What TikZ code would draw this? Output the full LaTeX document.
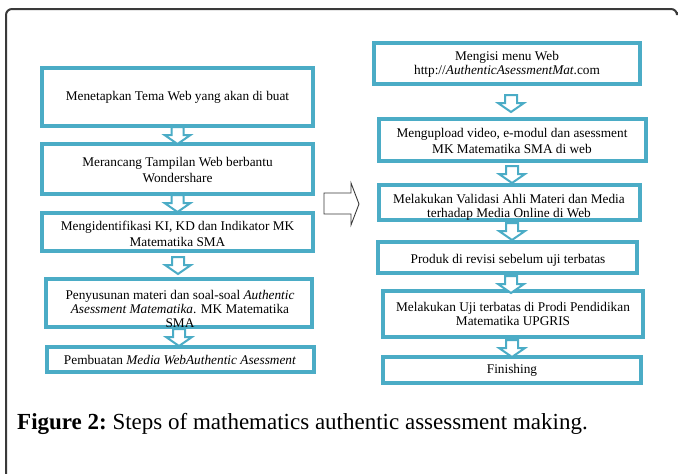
\documentclass[tikz,border=0pt]{standalone}
\usepackage{fontspec}
\setmainfont{Liberation Serif}
\definecolor{teal1}{RGB}{75,172,198}
\definecolor{frame1}{RGB}{58,58,58}
\tikzset{
  stepbox/.style={draw=teal1, line width=4pt, fill=none, inner sep=0pt, rectangle},
  txt/.style={align=center, inner sep=0pt, font=\fontsize{13.3}{16}\selectfont},
  txtt/.style={align=center, inner sep=0pt, font=\fontsize{13.3}{14}\selectfont},
  downarr/.pic={\draw[draw=teal1, fill=white, line width=2pt, line join=miter]
     (-6,0) -- (6,0) -- (6,8) -- (13,8) -- (0,17) -- (-13,8) -- (-6,8) -- cycle;},
}
\begin{document}
\begin{tikzpicture}[x=1pt,y=-1pt]
\useasboundingbox (0,0) rectangle (678,474);
% frame
\draw[frame1, line width=2pt, rounded corners=6pt] (6,474) -- (6,9) -- (677,9) -- (677,12);
% left boxes
\node[stepbox, minimum width=271pt, minimum height=58pt] (L1) at (177.5,97) {};
\node[stepbox, minimum width=271pt, minimum height=50pt] (L2) at (177.5,169) {};
\node[stepbox, minimum width=271pt, minimum height=38pt] (L3) at (177.5,232) {};
\node[stepbox, minimum width=266pt, minimum height=48pt] (L4) at (179,303) {};
\node[stepbox, minimum width=267pt, minimum height=25pt] (L5) at (180.5,359.5) {};
% right boxes
\node[stepbox, minimum width=266pt, minimum height=41pt] (R1) at (507,63.5) {};
\node[stepbox, minimum width=267pt, minimum height=42pt] (R2) at (512.5,140) {};
\node[stepbox, minimum width=261pt, minimum height=35pt] (R3) at (509.5,202.5) {};
\node[stepbox, minimum width=259pt, minimum height=31pt] (R4) at (507.5,257.5) {};
\node[stepbox, minimum width=260pt, minimum height=46pt] (R5) at (513,314) {};
\node[stepbox, minimum width=258pt, minimum height=26pt] (R6) at (512,370) {};
% texts
\node[txt] (tL1) at (177.5,97) {Menetapkan Tema Web yang akan di buat};
\node[txt] (tL2) at (177.5,170) {Merancang Tampilan Web berbantu\\Wondershare};
\begin{scope}
\clip ([shift={(2pt,-2pt)}]L3.north west) rectangle ([shift={(-2pt,2pt)}]L3.south east);
\node[txt] (tL3) at (177.5,234) {Mengidentifikasi KI, KD dan Indikator MK\\Matematika SMA};
\end{scope}
\begin{scope}
\clip ([shift={(2pt,-2pt)}]L4.north west) rectangle ([shift={(-2pt,2pt)}]L4.south east);
\node[txtt] (tL4) at (180,308.5) {Penyusunan materi dan soal-soal \textit{Authentic}\\\textit{Asessment Matematika}. MK Matematika\\SMA};
\end{scope}
\node[txt] (tL5) at (180,360) {Pembuatan \textit{Media WebAuthentic Asessment}};
\node[txtt] (tR1) at (507,64) {Mengisi menu Web\\http://\textit{AuthenticAsessmentMat}.com};
\node[txt] (tR2) at (512,141) {Mengupload video, e-modul dan asessment\\MK Matematika SMA di web};
\begin{scope}
\clip ([shift={(2pt,-2pt)}]R3.north west) rectangle ([shift={(-2pt,2pt)}]R3.south east);
\node[txtt] (tR3) at (509,207.5) {Melakukan Validasi Ahli Materi dan Media\\terhadap Media Online di Web};
\end{scope}
\node[txt] (tR4) at (508,260) {Produk di revisi sebelum uji terbatas};
\node[txtt] (tR5) at (513,314) {Melakukan Uji terbatas di Prodi Pendidikan\\Matematika UPGRIS};
\node[txt] (tR6) at (512,370) {Finishing};
% block arrows
\coordinate (a1) at (177.5,127);
\coordinate (a2) at (177.5,195);
\coordinate (a3) at (178,257);
\coordinate (a4) at (179,329);
\coordinate (b1) at (511,95);
\coordinate (b2) at (512,166);
\coordinate (b3) at (512,223);
\coordinate (b4) at (511,276);
\coordinate (b5) at (512,340);
\foreach \c in {a1,a2,a3,a4,b1,b2,b3,b4,b5} {\pic at (\c) {downarr};}
% big right arrow
\coordinate (big) at (324,203);
\draw[frame1, fill=white, line width=0.9pt, line join=miter]
  (big) ++(0,-10) -- ++(27,0) -- ++(0,-10) -- ++(8,21) -- ++(-8,21) -- ++(0,-11) -- ++(-27,0) -- cycle;
% caption
\node[anchor=base west, inner sep=0pt, font=\fontsize{23}{26}\selectfont] (cap) at (17,429)
  {\textbf{Figure 2:}\hspace{-2pt} Steps of mathematics authentic assessment making.};
\end{tikzpicture}
\end{document}
